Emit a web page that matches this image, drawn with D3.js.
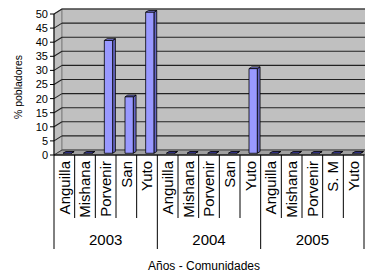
<!DOCTYPE html>
<html>
<head>
<meta charset="utf-8">
<script src="https://cdn.jsdelivr.net/npm/d3@7"></script>
<style>
  body { margin: 0; background: #fff; }
  svg { display: block; font-family: "Liberation Sans", Arial, sans-serif; }
</style>
</head>
<body>
<div id="chart"></div>
<script>
const years = ["2003", "2004", "2005"];
const comunidades = [
  ["Anguilla", "Mishana", "Porvenir", "San", "Yuto"],
  ["Anguilla", "Mishana", "Porvenir", "San", "Yuto"],
  ["Anguilla", "Mishana", "Porvenir", "S. M", "Yuto"]
];
const values = [
  [0, 0, 40, 20, 50],
  [0, 0, 0, 0, 30],
  [0, 0, 0, 0, 0]
];
const yTicks = [0, 5, 10, 15, 20, 25, 30, 35, 40, 45, 50];

// flatten into one row per bar
const rows = [];
years.forEach((yr, g) => {
  comunidades[g].forEach((c, k) => {
    rows.push({ key: g + "-" + k, year: yr, name: c, value: values[g][k] });
  });
});

const W = 365, H = 274;
const dx = 8, dy = -5; // depth of the 3d box

const svg = d3.select("#chart").append("svg")
  .attr("width", W).attr("height", H);

const x = d3.scaleBand()
  .domain(rows.map(d => d.key))
  .range([54, 364])
  .paddingInner(0);
const y = d3.scaleLinear().domain([0, 50]).range([155, 14]);
const bw = x.bandwidth();

// left side wall
svg.append("path")
  .attr("d", `M54,${y(0)}L54,${y(50)}L${54 + dx},${y(50) + dy}L${54 + dx},${y(0) + dy}Z`)
  .attr("fill", "#c0c0c0").attr("stroke", "#808080");
// back wall
svg.append("rect")
  .attr("x", 54 + dx).attr("y", y(50) + dy)
  .attr("width", 364 - 54).attr("height", y(0) - y(50))
  .attr("fill", "#c0c0c0").attr("stroke", "#808080");
// floor
svg.append("path")
  .attr("d", `M54,${y(0)}L364,${y(0)}L${364 + dx},${y(0) + dy}L${54 + dx},${y(0) + dy}Z`)
  .attr("fill", "#a0a0a0").attr("stroke", "#404040");

// gridlines
const grid = svg.append("g").attr("stroke", "#222").attr("stroke-width", 1.1);
grid.selectAll("line.back").data(yTicks.slice(1)).join("line")
  .attr("x1", 54 + dx).attr("x2", 364 + dx)
  .attr("y1", d => y(d) + dy).attr("y2", d => y(d) + dy);
grid.selectAll("line.side").data(yTicks.slice(1)).join("line")
  .attr("x1", 54).attr("x2", 54 + dx)
  .attr("y1", d => y(d)).attr("y2", d => y(d) + dy);

// 3d bars
const z0 = 0.35, z1 = 0.7;
const bars = svg.append("g").attr("stroke", "#000").attr("stroke-width", 0.8)
  .attr("stroke-linejoin", "round");
rows.forEach(d => {
  const c = x(d.key) + bw / 2;
  const l = c - bw * 0.2 + z0 * dx, r = c + bw * 0.2 + z0 * dx;
  const t = y(d.value) + z0 * dy, b = y(0) + z0 * dy;
  const ox = (z1 - z0) * dx, oy = (z1 - z0) * dy;
  const g = bars.append("g");
  g.append("path")
    .attr("d", `M${r},${b}L${r},${t}L${r + ox},${t + oy}L${r + ox},${b + oy}Z`)
    .attr("fill", "#6666c4");
  g.append("path")
    .attr("d", `M${l},${t}L${r},${t}L${r + ox},${t + oy}L${l + ox},${t + oy}Z`)
    .attr("fill", d.value > 0 ? "#8080e6" : "#3a3aa0");
  if (d.value > 0) {
    g.append("rect")
      .attr("x", l).attr("y", t)
      .attr("width", r - l).attr("height", b - t)
      .attr("fill", "#9999ff");
  }
});

// y axis
const ya = svg.append("g");
ya.append("line").attr("x1", 54).attr("x2", 54)
  .attr("y1", y(50)).attr("y2", 249).attr("stroke", "#000");
ya.selectAll("line.tk").data(yTicks).join("line")
  .attr("x1", 50).attr("x2", 54)
  .attr("y1", d => y(d)).attr("y2", d => y(d)).attr("stroke", "#000");
ya.selectAll("text").data(yTicks).join("text")
  .attr("x", 48).attr("y", d => y(d)).attr("dy", "0.36em")
  .attr("text-anchor", "end").attr("font-size", 11).text(d => d);

// front floor edge
svg.append("line").attr("x1", 54).attr("x2", 364)
  .attr("y1", y(0)).attr("y2", y(0)).attr("stroke", "#000");

// category dividers and labels
const cat = svg.append("g");
rows.forEach((d, i) => {
  const x0 = x(d.key);
  if (i > 0) {
    cat.append("line").attr("x1", x0).attr("x2", x0)
      .attr("y1", y(0)).attr("y2", i % 5 === 0 ? 249 : 218)
      .attr("stroke", "#000");
  }
  cat.append("text")
    .attr("transform", `translate(${x0 + bw / 2},161) rotate(-90)`)
    .attr("dy", "0.36em")
    .attr("text-anchor", "end")
    .attr("font-size", 15)
    .text(d.name);
});
cat.append("line").attr("x1", 364).attr("x2", 364)
  .attr("y1", y(0)).attr("y2", 249).attr("stroke", "#000");

// year labels
years.forEach((yr, g) => {
  const a = x(g + "-0"), b = x(g + "-4") + bw;
  cat.append("text").attr("x", (a + b) / 2).attr("y", 245)
    .attr("text-anchor", "middle").attr("font-size", 15).text(yr);
});

// axis titles
svg.append("text").attr("x", 204).attr("y", 270)
  .attr("text-anchor", "middle").attr("font-size", 12)
  .text("Años - Comunidades");
svg.append("text")
  .attr("transform", "translate(18,87) rotate(-90)")
  .attr("dy", "0.36em")
  .attr("text-anchor", "middle").attr("font-size", 10.5)
  .text("% pobladores");
</script>
</body>
</html>
